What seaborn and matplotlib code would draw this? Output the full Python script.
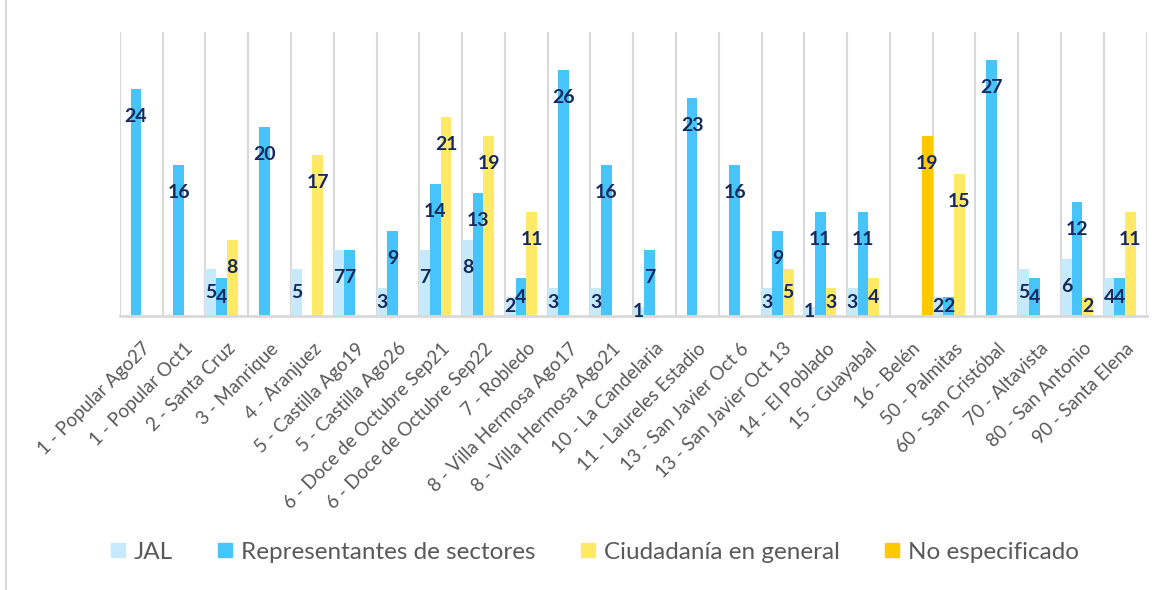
import numpy as np
import pandas as pd
import matplotlib
matplotlib.use("Agg")
import matplotlib.pyplot as plt
import seaborn as sns
from matplotlib.lines import Line2D

categories = ["1 - Popular Ago27", "1 - Popular Oct1", "2 - Santa Cruz", "3 - Manrique", "4 - Aranjuez",
              "5 - Castilla Ago19", "5 - Castilla Ago26", "6 - Doce de Octubre Sep21",
              "6 - Doce de Octubre Sep22", "7 - Robledo", "8 - Villa Hermosa Ago17",
              "8 - Villa Hermosa Ago21", "10 - La Candelaria", "11 - Laureles Estadio",
              "13 - San Javier Oct 6", "13 - San Javier Oct 13", "14 - El Poblado", "15 - Guayabal",
              "16 - Belén", "50 - Palmitas", "60 - San Cristóbal", "70 - Altavista",
              "80 - San Antonio", "90 - Santa Elena"]
series = ["JAL", "Representantes de sectores", "Ciudadanía en general", "No especificado"]
jal = [0, 0, 5, 0, 5, 7, 3, 7, 8, 2, 3, 3, 1, 0, 0, 3, 1, 3, 0, 2, 0, 5, 6, 4]
representantes = [24, 16, 4, 20, 0, 7, 9, 14, 13, 4, 26, 16, 7, 23, 16, 9, 11, 11, 0, 2, 27, 4, 12, 4]
ciudadania = [0, 0, 8, 0, 17, 0, 0, 21, 19, 11, 0, 0, 0, 0, 0, 5, 3, 4, 0, 15, 0, 0, 2, 11]
no_especificado = [0, 0, 0, 0, 0, 0, 0, 0, 0, 0, 0, 0, 0, 0, 0, 0, 0, 0, 19, 0, 0, 0, 0, 0]

colors = ["#c6e9fb", "#47c5fb", "#ffe966", "#ffc900"]
label_color = "#15295e"
tick_color = "#595959"
grid_color = "#d9d9d9"

rows = []
for s, vals in zip(series, [jal, representantes, ciudadania, no_especificado]):
    for c, v in zip(categories, vals):
        rows.append({"zona": c, "grupo": s, "valor": v})
df = pd.DataFrame(rows)

sns.set_style("white")
plt.rcParams["font.family"] = ["Lato", "DejaVu Sans"]

fig = plt.figure(figsize=(11.64, 5.9), dpi=100)
ax = fig.add_axes([0.103, 0.464, 0.882, 0.482])

sns.barplot(data=df, x="zona", y="valor", hue="grupo", hue_order=series, order=categories,
            palette=colors, width=1.0, gap=0, saturation=1, errorbar=None, legend=False,
            linewidth=0, edgecolor="none", ax=ax)

# value labels, placed inside the bar end
for container, vals in zip(ax.containers, [jal, representantes, ciudadania, no_especificado]):
    for bar, v in zip(container, vals):
        if v == 0:
            continue
        x = bar.get_x() + bar.get_width() / 2
        y = max(v - 2.9, v * 0.5)
        ax.text(x, y, str(v), ha="center", va="center", fontsize=14, fontweight="bold",
                color=label_color, zorder=5)

ax.set_ylim(0, 30)
ax.set_xlim(-0.5, len(categories) - 0.5)
ax.set_yticks([])
ax.set_xlabel("")
ax.set_ylabel("")
for side in ["top", "right", "left"]:
    ax.spines[side].set_visible(False)
ax.spines["bottom"].set_color(grid_color)
ax.spines["bottom"].set_linewidth(2)

# vertical separators between categories
ax.set_xticks(np.arange(-0.5, len(categories), 1), minor=True)
ax.grid(True, axis="x", which="minor", color=grid_color, linewidth=1.5, zorder=0)
ax.grid(False, axis="x", which="major")
ax.set_axisbelow(True)
ax.tick_params(axis="x", which="both", length=0)
ax.set_xticks(range(len(categories)))
ax.set_xticklabels(categories, rotation=45, ha="right", rotation_mode="anchor",
                   fontsize=13.5, color=tick_color)
ax.tick_params(axis="x", pad=17)

handles = [Line2D([], [], marker="s", linestyle="", markersize=10.5, markerfacecolor=c,
                  markeredgecolor=c) for c in colors]
fig.legend(handles, series, loc="center", bbox_to_anchor=(0.511, 0.064), ncol=4, frameon=False,
           fontsize=17.5, handlelength=0.6, handletextpad=0.35, columnspacing=1.85,
           labelcolor=tick_color)

fig.add_artist(Line2D([0.005, 0.005], [0, 1], color=grid_color, linewidth=1.5,
                      transform=fig.transFigure))

fig.savefig("out.png", dpi=100, facecolor="white")
